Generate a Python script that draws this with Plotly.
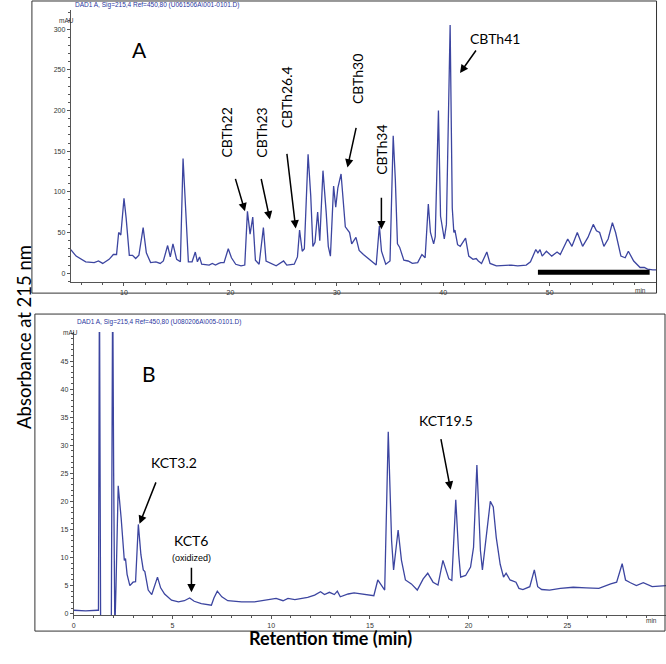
import plotly.graph_objects as go

W, H = 666, 664

# ---------------- Panel A data (retention time min, absorbance mAU) ----------------
A_time = [5.0, 5.5, 6.4, 7.2, 7.6, 8.0, 8.6, 9.0, 9.3, 9.5, 9.7, 10.0, 10.2, 10.5, 10.8, 11.1, 11.4, 11.8,
          12.1, 12.5, 13.0, 13.4, 13.7, 14.1, 14.35, 14.6, 14.95, 15.3, 15.55, 15.8, 16.05, 16.4, 16.7,
          16.9, 17.1, 17.3, 17.7, 18.0, 18.3, 18.6, 18.9, 19.1, 19.4, 19.8, 20.1, 20.5, 21.0, 21.35, 21.6,
          21.85, 22.1, 22.35, 22.7, 23.1, 23.35, 23.8, 24.3, 25.0, 25.3, 26.0, 26.3, 26.5, 26.75, 26.95,
          27.3, 27.55, 27.75, 27.95, 28.2, 28.4, 28.7, 29.0, 29.2, 29.4, 29.7, 29.9, 30.1, 30.4, 30.6, 30.8,
          31.2, 31.4, 31.8, 32.1, 32.5, 33.0, 33.7, 34.0, 34.2, 34.6, 35.0, 35.3, 35.5, 35.7, 35.9, 36.3,
          36.7, 37.1, 37.6, 38.0, 38.3, 38.6, 38.8, 39.1, 39.25, 39.55, 39.75, 40.1, 40.3, 40.65, 40.85,
          41.0, 41.1, 41.35, 41.6, 42.1, 42.4, 42.8, 43.1, 43.3, 43.6, 44.1, 44.4, 45.0, 45.8, 46.4, 47.0,
          47.8, 48.2, 48.5, 48.7, 48.9, 49.1, 49.3, 49.7, 50.2, 50.7, 51.0, 51.7, 52.1, 52.6, 53.1, 53.6,
          54.1, 54.4, 54.7, 55.1, 55.5, 55.9, 56.2, 56.7, 57.1, 57.4, 57.9, 58.5, 58.9, 59.2, 59.7, 60.0]
A_abs = [29, 21, 14, 13, 15, 12, 17, 23, 23, 50, 47, 92, 68, 22, 22, 18, 22, 56,
         25, 13, 14, 12, 15, 34, 20, 36, 17, 14, 141, 70, 14, 14, 26,
         14, 20, 11, 10, 10, 12, 10, 12, 13, 13, 30, 19, 11, 9, 10, 76,
         48, 69, 16, 11, 56, 15, 12, 9, 15, 10, 11, 20, 53, 27, 30,
         146, 95, 33, 38, 75, 40, 126, 75, 33, 21, 107, 81, 105, 122, 93, 57,
         50, 36, 44, 28, 23, 18, 10, 58, 27, 11, 15, 169, 115, 36, 32, 16,
         15, 12, 13, 23, 19, 85, 50, 36, 45, 200, 70, 42, 60, 305, 80,
         50, 53, 35, 33, 43, 21, 17, 18, 15, 12, 26, 12, 9, 10, 10, 9,
         10, 14, 22, 29, 25, 29, 21, 27, 21, 26, 23, 42, 33, 50, 33, 44,
         60, 52, 50, 33, 42, 62, 50, 21, 19, 27, 15, 7, 7, 5, 4, 4]

# ---------------- Panel B data ----------------
B_time = [0.0, 0.6, 1.2, 1.25, 1.3, 1.36, 1.9, 1.97, 2.02, 2.08, 2.14, 2.25, 2.4, 2.56, 2.62, 2.7, 2.84,
          3.0, 3.13, 3.27, 3.4, 3.52, 3.6, 3.77, 3.95, 4.24, 4.4, 4.6, 4.95, 5.3, 5.6, 5.87, 6.1, 6.46,
          6.97, 7.1, 7.27, 7.5, 7.8, 8.5, 9.15, 9.8, 10.25, 10.6, 10.85, 11.2, 11.85, 12.2, 12.5, 12.7,
          12.95, 13.2, 13.35, 13.5, 13.9, 14.2, 14.7, 15.2, 15.4, 15.65, 15.75, 15.93, 16.1, 16.2, 16.43,
          16.6, 16.8, 17.1, 17.4, 17.7, 17.93, 18.2, 18.45, 18.7, 19.0, 19.15, 19.35, 19.5, 19.6, 19.85,
          20.1, 20.25, 20.42, 20.6, 20.7, 20.85, 21.1, 21.25, 21.4, 21.6, 21.77, 21.9, 22.1, 22.4, 22.55,
          22.75, 22.9, 23.1, 23.33, 23.5, 23.7, 24.1, 24.65, 25.3, 25.95, 26.6, 27.2, 27.5, 27.78, 27.95,
          28.2, 28.5, 28.85, 29.3, 30.0]
B_abs = [0.6, 0.5, 0.6, 0.6, 60, -3, -3, 60, 25, -3, 5, 22.8, 17, 9.5, 9.8, 7, 5,
         5.6, 5.7, 15.9, 10.5, 7.8, 7.5, 4.2, 3.4, 6.5, 4.6, 3.5, 2.4, 2.1, 2.3, 2.8, 2.2, 1.8,
         1.5, 2.8, 4.0, 3.0, 2.3, 2.1, 2.1, 2.5, 2.7, 2.3, 2.7, 2.5, 2.9, 3.3, 3.9, 3.4,
         3.8, 3.4, 4.0, 3.0, 3.5, 3.7, 3.4, 3.2, 6.0, 4.7, 4.2, 32.4, 13, 7.8, 14.9,
         9.5, 6, 5.3, 4.2, 6.2, 7.2, 5.6, 5.1, 9.5, 6.2, 5.9, 20.3, 10.5, 6.5, 6.8,
         8.3, 11.8, 26.5, 11.2, 7.8, 12.4, 20, 19, 13.6, 8.8, 6.5, 7.2, 6.0, 5.6, 4.5,
         4.3, 4.5, 4.8, 7.8, 4.8, 4.3, 4.2, 4.5, 4.7, 4.6, 4.5, 5.3, 5.6, 8.9, 6,
         5.5, 5.0, 5.5, 4.8, 5.0]

# ---------------- ticks ----------------
A_xticks = [10, 20, 30, 40, 50]
A_yticks = [0, 50, 100, 150, 200, 250, 300]
B_xticks = [0, 5, 10, 15, 20, 25]
B_yticks = [0, 5, 10, 15, 20, 25, 30, 35, 40, 45]

# ---------------- peak labels / arrows ----------------
A_vlabels = ["CBTh22", "CBTh23", "CBTh26.4", "CBTh30", "CBTh34"]
A_vlabel_t = [19.6, 22.9, 25.3, 31.95, 34.2]
A_vlabel_v = [173, 173, 216, 238, 151]
A_hlabels = ["CBTh41"]
A_hlabel_t = [44.9]
A_hlabel_v = [289]
A_arrow_t = [21.37, 23.71, 26.14, 31.0, 34.19, 41.58]
A_arrow_v = [76, 66, 55, 130, 54, 246]
A_arrow_dx = [-10, -9, -9, 9, 0, 17]
A_arrow_dy = [-34, -42, -76, -41, -33, -24]
A_bar_t = [48.9, 59.4]
A_bar_v = 1.2

B_labels = ["KCT3.2", "KCT6", "KCT19.5"]
B_label_t = [5.1, 5.96, 18.84]
B_label_v = [26.9, 13.1, 34.5]
B_sublabel = "(oxidized)"
B_sublabel_t = 5.96
B_sublabel_v = 9.9
B_arrow_t = [3.33, 5.96, 19.09]
B_arrow_v = [16.0, 3.8, 22.1]
B_arrow_dx = [17, 0, -10]
B_arrow_dy = [-43, -26, -52]

LINE = "#3c45a0"
AX = "#555555"
TXT = "Lato"


def px(x):
    return x / W


def py(y):
    return 1 - y / H


fig = go.Figure()
fig.add_trace(go.Scatter(x=A_time, y=A_abs, mode="lines", line=dict(color=LINE, width=1.3),
                         xaxis="x", yaxis="y", hoverinfo="skip", cliponaxis=True))
fig.add_trace(go.Scatter(x=B_time, y=B_abs, mode="lines", line=dict(color=LINE, width=1.3),
                         xaxis="x2", yaxis="y2", hoverinfo="skip", cliponaxis=True))

common = dict(showgrid=False, zeroline=False, showline=True, linecolor=AX, linewidth=1,
              ticks="outside", ticklen=3, tickwidth=1, tickcolor=AX,
              tickfont=dict(family="Liberation Sans", size=7, color="#333"), tickmode="array")


def minor(d):
    return dict(tickmode="linear", tick0=0, dtick=d, ticks="outside", ticklen=2, tickcolor=AX, tickwidth=1)


fig.update_layout(
    width=W, height=H, margin=dict(l=0, r=0, t=0, b=0),
    paper_bgcolor="white", plot_bgcolor="white", showlegend=False,
    xaxis=dict(domain=[px(69), px(656)], range=[5, 60], anchor="y", tickvals=A_xticks, minor=minor(2), **common),
    yaxis=dict(domain=[py(283), py(10)], range=[-11, 323.5], anchor="x", tickvals=A_yticks, minor=minor(10), **common),
    xaxis2=dict(domain=[px(72), 1.0], range=[0, 30], anchor="y2", tickvals=B_xticks, minor=minor(1), **common),
    yaxis2=dict(domain=[py(617), py(333)], range=[-0.27, 50.2], anchor="x2", tickvals=B_yticks, minor=minor(1), **common),
)

shapes = [
    dict(type="rect", xref="paper", yref="paper", x0=px(30), x1=px(656.5), y0=py(294), y1=py(1),
         line=dict(color="#333", width=1)),
    dict(type="rect", xref="paper", yref="paper", x0=px(33), x1=px(665), y0=py(633), y1=py(315),
         line=dict(color="#333", width=1)),
    dict(type="line", xref="x", yref="y", x0=A_bar_t[0], x1=A_bar_t[1], y0=A_bar_v, y1=A_bar_v,
         line=dict(color="black", width=5)),
]
fig.update_layout(shapes=shapes)

ann = []
# header texts
ann.append(dict(xref="paper", yref="paper", x=px(71), y=py(5), xanchor="left", yanchor="middle", showarrow=False,
                text="DAD1 A, Sig=215,4 Ref=450,80 (U061506A\\001-0101.D)",
                font=dict(family="Liberation Sans", size=6.5, color="#2a36a0")))
ann.append(dict(xref="paper", yref="paper", x=px(73), y=py(323), xanchor="left", yanchor="middle", showarrow=False,
                text="DAD1 A, Sig=215,4 Ref=450,80 (U080206A\\005-0101.D)",
                font=dict(family="Liberation Sans", size=6.5, color="#2a36a0")))
for (x, y, t) in [(55, 15, "mAU"), (59, 334, "mAU"), (648, 291, "min"), (659, 628, "min")]:
    ann.append(dict(xref="paper", yref="paper", x=px(x), y=py(y), showarrow=False, text=t,
                    font=dict(family="Liberation Sans", size=6.5, color="#333")))
# panel letters
ann.append(dict(xref="x", yref="y", x=11.45, y=274.5, text="A", showarrow=False,
                font=dict(family=TXT, size=21, color="black")))
ann.append(dict(xref="x2", yref="y2", x=3.79, y=42.8, text="B", showarrow=False,
                font=dict(family=TXT, size=21, color="black")))
# panel A labels
for t, xv, yv in zip(A_vlabels, A_vlabel_t, A_vlabel_v):
    ann.append(dict(xref="x", yref="y", x=xv, y=yv, text=t, textangle=-90, showarrow=False,
                    font=dict(family=TXT, size=14, color="black")))
for t, xv, yv in zip(A_hlabels, A_hlabel_t, A_hlabel_v):
    ann.append(dict(xref="x", yref="y", x=xv, y=yv, text=t, showarrow=False,
                    font=dict(family=TXT, size=14, color="black")))
arrow_style = dict(showarrow=True, arrowhead=2, arrowsize=1.1, arrowwidth=1.5, arrowcolor="black", text="")
for xv, yv, dx, dy in zip(A_arrow_t, A_arrow_v, A_arrow_dx, A_arrow_dy):
    ann.append(dict(xref="x", yref="y", x=xv, y=yv, ax=dx, ay=dy, **arrow_style))
# panel B labels
for t, xv, yv in zip(B_labels, B_label_t, B_label_v):
    ann.append(dict(xref="x2", yref="y2", x=xv, y=yv, text=t, showarrow=False,
                    font=dict(family=TXT, size=14, color="black")))
ann.append(dict(xref="x2", yref="y2", x=B_sublabel_t, y=B_sublabel_v, text=B_sublabel, showarrow=False,
                font=dict(family="Liberation Sans", size=9, color="black")))
for xv, yv, dx, dy in zip(B_arrow_t, B_arrow_v, B_arrow_dx, B_arrow_dy):
    ann.append(dict(xref="x2", yref="y2", x=xv, y=yv, ax=dx, ay=dy, **arrow_style))
# axis titles
ann.append(dict(xref="paper", yref="paper", x=px(9), y=py(338), text="Absorbance at 215 nm", textangle=-90,
                showarrow=False, font=dict(family=TXT, size=18.5, color="black")))
ann.append(dict(xref="paper", yref="paper", x=px(329), y=py(653), text="<b>Retention time (min)</b>",
                showarrow=False, font=dict(family=TXT, size=18, color="black")))
fig.update_layout(annotations=ann)

fig.write_html("out.html", config={"displayModeBar": False},
               post_script="document.body.style.margin='0';document.body.style.overflow='hidden';")
